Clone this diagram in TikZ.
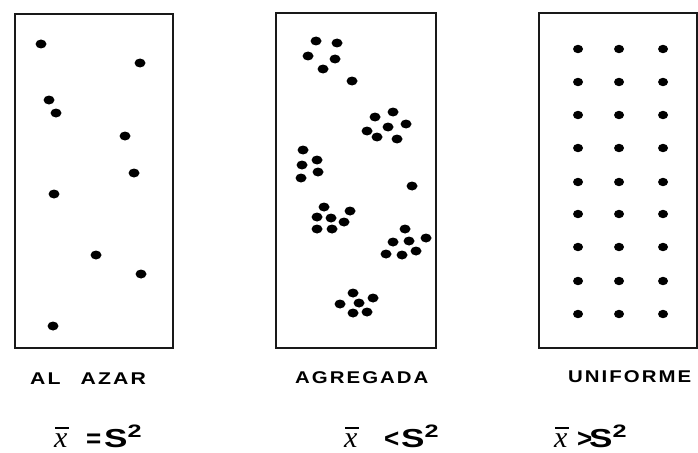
\documentclass[tikz,border=0pt]{standalone}
\usepackage{fontspec}
\setmainfont{Liberation Sans}
\newfontfamily\labfont[LetterSpace=10]{Liberation Sans}
\newfontfamily\xfont{Liberation Serif}
\newcommand{\sqsup}{\raisebox{9.5pt}{\scalebox{1.4}[1]{\fontsize{18}{18}\selectfont 2}}}
\begin{document}
\begin{tikzpicture}[x=1pt,y=-1pt,
  panel/.style={draw=black!90,line width=2pt},
  dotA/.style={fill=black},
  lab/.style={inner sep=0pt,anchor=base west,font=\labfont\bfseries\fontsize{17}{17}\selectfont},
  frm/.style={inner sep=0pt,anchor=base west,font=\bfseries\fontsize{26}{26}\selectfont},
  xb/.style={inner sep=0pt,anchor=base west,font=\xfont\itshape\fontsize{30}{30}\selectfont},
  barline/.style={line width=1.8pt}]
\useasboundingbox (0,0) rectangle (698,452);
\fill[white] (0,0) rectangle (698,452);
% panels
\draw[panel] (15,14) rectangle (173,348);
\draw[panel] (276,13) rectangle (436,348);
\draw[panel] (539,13) rectangle (697,348);
% random
\foreach \x/\y in {41/44,140/63,49/100,56/113,125/136,134/173,54/194,96/255,141/274,53/326}
  \fill[dotA] (\x,\y) ellipse [x radius=5.5,y radius=4.5];
% aggregated
\foreach \x/\y in {316/41,337/43,308/56,335/59,323/69,352/81,
  393/112,375/117,406/124,388/127,367/131,377/137,397/139,
  303/150,317/160,302/165,318/172,301/178,412/186,
  324/207,350/211,317/217,331/218,344/222,317/229,332/229,
  405/229,393/242,409/241,426/238,386/254,402/255,416/251,
  353/293,373/298,340/304,359/303,353/313,367/312}
  \fill[dotA] (\x,\y) ellipse [x radius=5.5,y radius=4.5];
% uniform
\foreach \x in {578,619,663}
  \foreach \y in {49,82,115,148,182,214,247,281,314}
    \fill[dotA] (\x,\y) ellipse [x radius=5,y radius=4.2];
% labels
\node[lab] (l1) at (30,384) {\scalebox{1.25}[1]{AL\hspace{16pt}AZAR}};
\node[lab] (l2) at (295,383) {\scalebox{1.2}[1]{AGREGADA}};
\node[lab] (l3) at (568,382) {\scalebox{1.2}[1]{UNIFORME}};
% formulas
\node[xb] (f1x) at (54,447) {x};
\draw[barline] ([yshift=5pt,xshift=1pt]f1x.north west) -- ([yshift=5pt,xshift=1pt]f1x.north east);
\node[frm] (f1r) at (86,447) {=};
\node[frm] (f1s) at (104,447) {\scalebox{1.35}[1]{S}\sqsup};
\node[xb] (f2x) at (344,447) {x};
\draw[barline] ([yshift=5pt,xshift=1pt]f2x.north west) -- ([yshift=5pt,xshift=1pt]f2x.north east);
\node[frm] (f2r) at (384,447) {<};
\node[frm] (f2s) at (401,447) {\scalebox{1.35}[1]{S}\sqsup};
\node[xb] (f3x) at (554,447) {x};
\draw[barline] ([yshift=5pt,xshift=1pt]f3x.north west) -- ([yshift=5pt,xshift=1pt]f3x.north east);
\node[frm] (f3r) at (577,447) {>};
\node[frm] (f3s) at (589,447) {\scalebox{1.35}[1]{S}\sqsup};
\end{tikzpicture}
\end{document}
